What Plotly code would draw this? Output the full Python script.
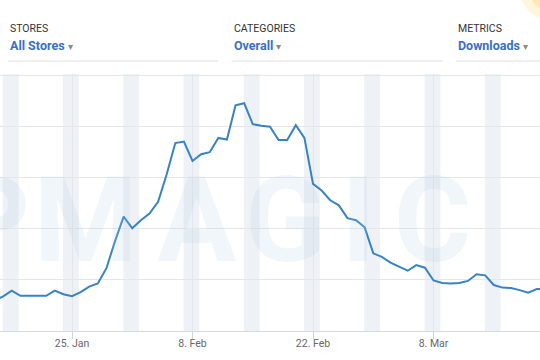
import pandas as pd
import plotly.graph_objects as go

# ---------------- data ----------------
start_date = "2021-01-16"
downloads_k = [
    5.9, 6.8, 7.9, 6.9, 6.9, 6.9, 6.9, 7.9, 7.2,          # Jan 16 - Jan 24
    6.8, 7.6, 8.7, 9.3, 12.3, 17.6, 22.4,                   # Jan 25 - Jan 31
    20.1, 21.7, 23.0, 25.3, 30.7, 36.8, 37.1,               # Feb 1 - Feb 7
    33.3, 34.6, 35.0, 37.8, 37.5, 44.2, 44.6,               # Feb 8 - Feb 14
    40.5, 40.2, 40.0, 37.4, 37.4, 40.3, 37.8,               # Feb 15 - Feb 21
    28.8, 27.5, 25.6, 24.6, 22.1, 21.7, 20.3,               # Feb 22 - Feb 28
    15.2, 14.5, 13.4, 12.6, 11.8, 12.9, 12.4,               # Mar 1 - Mar 7
    9.9, 9.4, 9.3, 9.4, 9.8, 11.1, 10.9,                    # Mar 8 - Mar 14
    9.0, 8.5, 8.4, 8.0, 7.5, 8.2, 8.2,                      # Mar 15 - Mar 21
]
dates = pd.date_range(start_date, periods=len(downloads_k), freq="D")

weekend_mondays = pd.date_range("2021-01-18", "2021-03-15", freq="7D")

filter_labels = ["STORES", "CATEGORIES", "METRICS"]
filter_values = ["All Stores", "Overall", "Downloads"]
watermark_letters = ["P", "M", "A", "G", "I", "C"]

# ---------------- layout helpers ----------------
W, H = 540, 360
M_T, M_B = 74, 29
PLOT_H = H - M_T - M_B


def px_x(x):
    return x / W


def px_y(y):
    return (H - M_B - y) / PLOT_H


fig = go.Figure()
fig.add_trace(go.Scatter(
    x=dates, y=downloads_k, mode="lines",
    line=dict(color="#3783c5", width=2),
    hoverinfo="x+y", showlegend=False,
))

shapes = []
for mon in weekend_mondays:
    shapes.append(dict(
        type="rect", xref="x", yref="paper", layer="below",
        x0=mon - pd.Timedelta(hours=25), x1=mon + pd.Timedelta(hours=19),
        y0=0, y1=1, fillcolor="#eef1f5", line=dict(width=0),
    ))

# dropdown underlines
for x0, x1 in [(8, 218), (232, 443), (456, 545)]:
    shapes.append(dict(type="line", xref="paper", yref="paper",
                       x0=px_x(x0), x1=px_x(x1), y0=px_y(61), y1=px_y(61),
                       line=dict(color="#e0e0e0", width=1)))

# faint yellow glow in the corner
shapes.append(dict(type="circle", xref="paper", yref="paper",
                   x0=px_x(520), x1=px_x(580), y0=px_y(20), y1=px_y(-40),
                   fillcolor="rgba(255,225,140,0.30)", line=dict(width=0)))
shapes.append(dict(type="circle", xref="paper", yref="paper",
                   x0=px_x(530), x1=px_x(566), y0=px_y(10), y1=px_y(-26),
                   fillcolor="rgba(255,205,100,0.35)", line=dict(width=0)))

annotations = []
for lbl, val, x in zip(filter_labels, filter_values, [8, 232, 456]):
    annotations.append(dict(
        xref="paper", yref="paper", x=px_x(x), y=px_y(29),
        xanchor="left", yanchor="middle", showarrow=False,
        text=lbl, font=dict(family="Roboto, Arial", size=10.5, color="#333333"),
    ))
    annotations.append(dict(
        xref="paper", yref="paper", x=px_x(x), y=px_y(45.5),
        xanchor="left", yanchor="middle", showarrow=False,
        text=f"<b>{val}</b> <span style='color:#8a8a8a;font-size:10px'>▾</span>",
        font=dict(family="Roboto, Arial", size=12.5, color="#3a6fc4"),
    ))

for letter, cx in zip(watermark_letters, [-8, 85, 196, 285, 358, 432]):
    annotations.append(dict(
        xref="paper", yref="paper", x=px_x(cx), y=px_y(221),
        xanchor="center", yanchor="middle", showarrow=False,
        text=f"<b>{letter}</b>",
        font=dict(family="Roboto, Arial", size=118, color="rgba(175,205,235,0.18)"),
    ))

x_start = pd.Timestamp("2021-01-25") - pd.Timedelta(days=8.365)
x_end = pd.Timestamp("2021-01-25") + pd.Timedelta(days=54.37)

fig.update_layout(
    width=W, height=H, autosize=False,
    margin=dict(l=0, r=0, t=M_T, b=M_B, pad=0),
    paper_bgcolor="white", plot_bgcolor="white",
    shapes=shapes, annotations=annotations,
    xaxis=dict(
        range=[x_start, x_end], type="date",
        tick0="2021-01-25", dtick=14 * 24 * 3600 * 1000,
        tickformat="%-d. %b",
        showgrid=True, gridcolor="#e3e6ea", gridwidth=1,
        ticks="outside", ticklen=7, tickcolor="#d0d4da",
        ticklabelstandoff=-5,
        showline=True, linecolor="#d6dae0", linewidth=1,
        tickfont=dict(family="Roboto, Arial", size=10.5, color="#666666"),
        zeroline=False, fixedrange=True,
    ),
    yaxis=dict(
        range=[0, 50.32], dtick=10, showticklabels=False,
        showgrid=True, gridcolor="#e6e6e6", gridwidth=1,
        zeroline=False, showline=False, fixedrange=True,
    ),
)

fig.write_html(
    "out.html",
    config={"displayModeBar": False},
    post_script="document.body.style.margin='0';document.body.style.overflow='hidden';",
)
